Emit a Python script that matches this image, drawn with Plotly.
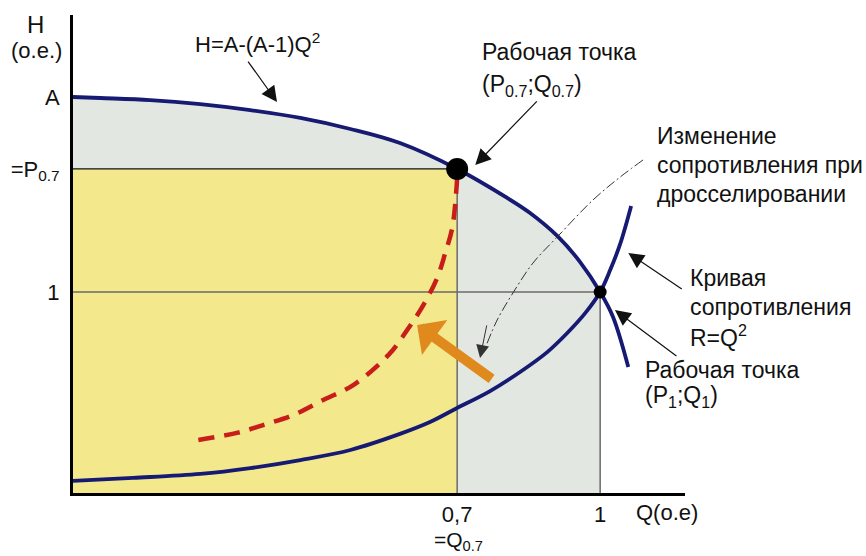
import plotly.graph_objects as go

# Axis frame in relative units (o.e.)
q_range = [-0.106, 1.178]
h_range = [0.0, 2.378]

# Operating points: throttled (Q=0.7) and nominal (Q=1)
q_work = [0.7, 1.0]
h_work = [1.612, 1.0]
h_A = 1.970

# Pump head curve H = A-(A-1)Q^2
pump_q = [-0.106, -0.049, 0.056, 0.161, 0.266, 0.371, 0.476, 0.580, 0.700,
          0.805, 0.853, 0.910, 0.958, 1.000, 1.027, 1.059]
pump_h = [1.970, 1.965, 1.955, 1.935, 1.905, 1.866, 1.811, 1.741, 1.612,
          1.468, 1.393, 1.279, 1.149, 1.000, 0.876, 0.627]

# System resistance curve R = Q^2
res_q = [-0.106, 0.020, 0.161, 0.266, 0.371, 0.476, 0.580, 0.643, 0.696,
         0.769, 0.832, 0.889, 0.931, 0.969, 1.000, 1.021, 1.042, 1.065]
res_h = [0.060, 0.075, 0.095, 0.124, 0.164, 0.214, 0.294, 0.353, 0.418,
         0.507, 0.602, 0.701, 0.796, 0.896, 1.000, 1.109, 1.239, 1.428]

# Resistance curve after throttling
throttle_q = [0.157, 0.238, 0.293, 0.356, 0.419, 0.482, 0.556, 0.598, 0.629,
              0.658, 0.675, 0.690, 0.700]
throttle_h = [0.264, 0.299, 0.338, 0.388, 0.463, 0.537, 0.687, 0.821, 0.935,
              1.070, 1.194, 1.323, 1.567]

# Leader line for the throttling caption
guide_q = [1.090, 1.042, 0.985, 0.910, 0.859, 0.817, 0.784, 0.762]
guide_h = [1.657, 1.572, 1.458, 1.274, 1.144, 0.995, 0.861, 0.740]

x_tick_vals = [0.7, 1.0]
x_tick_text = ["0,7", "1"]
y_tick_vals = [1.0, 1.612, 1.970]
y_tick_text = ["1", "=P<sub>0.7</sub>", "A"]

NAVY = "#161A72"
FONT = "Liberation Sans, Arial, sans-serif"

L, R, T, B = 73, 181, 15, 63
W, H = 866, 556
PW, PH = W - L - R, H - T - B


def px(x):
    return (x - L) / PW


def py(y):
    return (H - B - y) / PH


fig = go.Figure()

# Area under the pump curve up to Q=1
n1 = pump_q.index(1.0) + 1
fig.add_trace(go.Scatter(x=pump_q[:n1], y=pump_h[:n1], mode="none",
                         fill="tozeroy", fillcolor="#E3E7E2",
                         line=dict(shape="spline"), hoverinfo="skip"))
# Power rectangle at the throttled point
fig.add_trace(go.Scatter(x=[q_range[0], q_work[0]], y=[h_work[0], h_work[0]],
                         mode="none", fill="tozeroy", fillcolor="#F3E98C",
                         hoverinfo="skip"))

# Reference lines to the operating points
fig.add_trace(go.Scatter(x=[q_range[0], q_work[0]], y=[h_work[0], h_work[0]],
                         mode="lines", line=dict(color="#111111", width=1.2),
                         hoverinfo="skip"))
fig.add_trace(go.Scatter(x=[q_work[0], q_work[0]], y=[0, h_work[0]],
                         mode="lines", line=dict(color="#6A6A6A", width=1.5),
                         hoverinfo="skip"))
fig.add_trace(go.Scatter(x=[q_range[0], q_work[1]], y=[h_work[1], h_work[1]],
                         mode="lines", line=dict(color="#6A6A6A", width=1.5),
                         hoverinfo="skip"))
fig.add_trace(go.Scatter(x=[q_work[1], q_work[1]], y=[0, h_work[1]],
                         mode="lines", line=dict(color="#6A6A6A", width=1.5),
                         hoverinfo="skip"))

# Curves
fig.add_trace(go.Scatter(x=throttle_q, y=throttle_h, mode="lines",
                         line=dict(color="#C81E1A", width=4.5, dash="16px,10px",
                                   shape="spline"), hoverinfo="skip"))
fig.add_trace(go.Scatter(x=pump_q, y=pump_h, mode="lines",
                         line=dict(color=NAVY, width=3.8, shape="spline"),
                         hoverinfo="skip"))
fig.add_trace(go.Scatter(x=res_q, y=res_h, mode="lines",
                         line=dict(color=NAVY, width=3.8, shape="spline"),
                         hoverinfo="skip"))
fig.add_trace(go.Scatter(x=guide_q, y=guide_h, mode="lines",
                         line=dict(color="#333333", width=1,
                                   dash="10px,3px,2px,3px", shape="spline"),
                         hoverinfo="skip"))

# Operating points
fig.add_trace(go.Scatter(x=q_work, y=h_work, mode="markers",
                         marker=dict(color="#000000", size=[22, 13], opacity=1,
                                     line=dict(width=0)),
                         hoverinfo="skip"))

annotations = []


def arrow(x, y, ax, ay, color="#111111", width=1.2, head=2, size=2.6):
    annotations.append(dict(x=x, y=y, xref="x", yref="y", ax=ax, ay=ay,
                            text="", showarrow=True, arrowhead=head,
                            arrowsize=size, arrowwidth=width,
                            arrowcolor=color, standoff=0))


def label(x, y, text, anchor="left", size=23):
    annotations.append(dict(x=px(x), y=py(y), xref="paper", yref="paper",
                            text=text, showarrow=False, xanchor=anchor,
                            yanchor="middle",
                            font=dict(family=FONT, size=size, color="#111111")))


# Pointer arrows
arrow(0.322, 1.945, -30, -42)
arrow(0.738, 1.632, 63, -65)
arrow(1.059, 1.194, 55, 37)
arrow(1.031, 0.910, 63, 47)
arrow(0.748, 0.672, 7, -34, color="#333333", width=1)
# Throttling direction
arrow(0.616, 0.836, 76, 55, color="#E08A1E", width=10, head=1, size=0.72)

# Captions
label(35, 24, "H", anchor="center", size=24)
label(36, 50, "(o.e.)", anchor="center", size=22)
label(193, 43, "H=A-(A-1)Q<sup>2</sup>", size=22)
label(480, 52, "Рабочая точка")
label(480, 86, "(P<sub>0.7</sub>;Q<sub>0.7</sub>)")
label(655, 136, "Изменение")
label(655, 165, "сопротивления при")
label(655, 194, "дросселировании")
label(688, 278, "Кривая")
label(688, 307, "сопротивления")
label(688, 336, "R=Q<sup>2</sup>")
label(643, 370, "Рабочая точка")
label(643, 396, "(P<sub>1</sub>;Q<sub>1</sub>)")
label(667, 512, "Q(o.e)", anchor="center", size=22)
label(458, 541, "=Q<sub>0.7</sub>", anchor="center", size=21)

fig.update_layout(
    template="none",
    width=W, height=H,
    margin=dict(l=L, r=R, t=T, b=B, autoexpand=False),
    paper_bgcolor="white", plot_bgcolor="white",
    showlegend=False,
    font=dict(family=FONT, size=22, color="#111111"),
    annotations=annotations,
)
fig.update_xaxes(range=q_range, showgrid=False, zeroline=False,
                 automargin=False,
                 showline=True, linecolor="black", linewidth=3, ticks="",
                 tickvals=x_tick_vals, ticktext=x_tick_text,
                 ticklabelstandoff=0, fixedrange=True)
fig.update_yaxes(range=h_range, showgrid=False, zeroline=False,
                 automargin=False,
                 showline=True, linecolor="black", linewidth=3, ticks="",
                 tickvals=y_tick_vals, ticktext=y_tick_text,
                 ticklabelstandoff=6, fixedrange=True)

fig.write_html("out.html")
